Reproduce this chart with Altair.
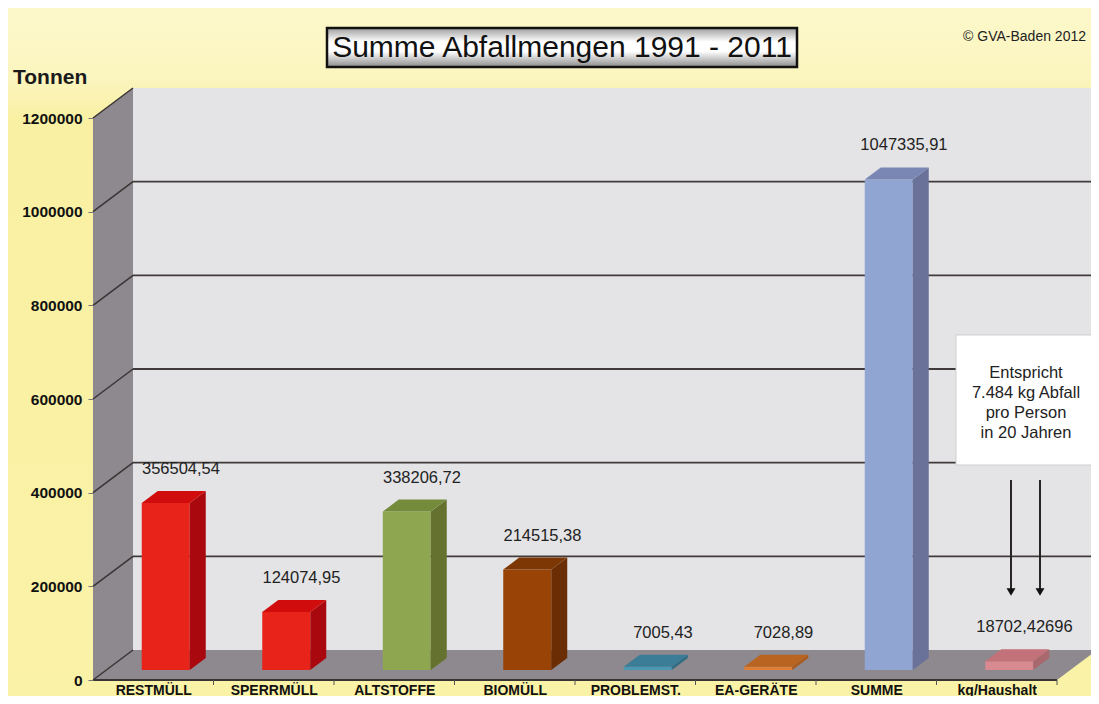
import json
import altair as alt
import pandas as pd

# ---------------- data ----------------
categories = ["RESTMÜLL", "SPERRMÜLL", "ALTSTOFFE", "BIOMÜLL",
              "PROBLEMST.", "EA-GERÄTE", "SUMME", "kg/Haushalt"]
values = [356504.54, 124074.95, 338206.72, 214515.38,
          7005.43, 7028.89, 1047335.91, 18702.42696]
value_labels = ["356504,54", "124074,95", "338206,72", "214515,38",
                "7005,43", "7028,89", "1047335,91", "18702,42696"]
front_colors = ["#E8231A", "#E8231A", "#8DA64F", "#9A4306",
                "#4A98B4", "#E07F36", "#91A5D3", "#D98A90"]
side_colors = ["#A9080E", "#A9080E", "#65722F", "#6B2D04",
               "#2F6B82", "#A85A1C", "#6A7299", "#A8686E"]
top_colors = ["#D10C0C", "#D10C0C", "#748B3B", "#7C3705",
              "#3B7D97", "#B96521", "#7A86B3", "#C27278"]
y_ticks = [0, 200000, 400000, 600000, 800000, 1000000, 1200000]

title_text = "Summe Abfallmengen 1991 - 2011"
copyright_text = "© GVA-Baden 2012"
unit_text = "Tonnen"
note_text = "Entspricht\n7.484 kg Abfall\npro Person\nin 20 Jahren"

FONT = "Liberation Sans"

# ---------------- geometry constants (pixel based) ----------------
PX_X = 120.5                 # px per category
K = 562 / 1200000            # px per tonne
W, H = 990, 600
XMAX = W / PX_X
YMAX = H / K
DX, DY = 40 / PX_X, 30 / K   # full depth of the 3D box
OX, OY = 12.5 / PX_X, 10 / K # offset of bar front face
HW = 24 / PX_X               # half width of bar
BDX, BDY = 16 / PX_X, 12 / K # bar depth
NC = len(categories)

xs = alt.Scale(domain=[0, XMAX], nice=False, zero=False)
ys = alt.Scale(domain=[0, YMAX], nice=False, zero=False)

label_expr = json.dumps(categories, ensure_ascii=False) + "[floor(datum.value)]"
x_axis = alt.Axis(values=[i + 0.5 for i in range(NC)], labelExpr=label_expr,
                  ticks=False, domain=False, grid=False, title=None,
                  labelFont=FONT, labelFontWeight="bold", labelFontSize=14,
                  labelColor="#111111", labelPadding=3, labelAngle=0,
                  labelOverlap=False, labelFlush=False, zindex=2)
y_axis = alt.Axis(values=y_ticks, format="d", ticks=True, tickSize=5,
                  tickColor="#777777", domain=False, grid=False, title=None,
                  labelFont=FONT, labelFontWeight="bold", labelFontSize=15.5,
                  labelColor="#111111", labelPadding=6, labelFlush=False, zindex=2)


def X(f):
    return alt.X(f, type="quantitative", scale=xs, axis=x_axis)


def Y(f):
    return alt.Y(f, type="quantitative", scale=ys, axis=y_axis)


one = pd.DataFrame({"k": [0]})

# ---------------- background ----------------
bg = alt.Chart(one).mark_rect(fill={
    "gradient": "linear", "x1": 0, "y1": 0, "x2": 0, "y2": 1,
    "stops": [{"offset": 0, "color": "#FCF8CA"},
              {"offset": 0.1, "color": "#FBF5BF"},
              {"offset": 0.16, "color": "#F9F0A3"},
              {"offset": 1, "color": "#FAF2A6"}]}).encode(
    x=alt.value(-85), x2=alt.value(1000), y=alt.value(-72), y2=alt.value(620))

# ---------------- 3D box ----------------
back_df = pd.DataFrame({"x": [DX], "x2": [NC + DX], "y": [DY], "y2": [y_ticks[-1] + DY]})
back = alt.Chart(back_df).mark_rect(color="#E4E4E6").encode(
    x=X("x"), x2="x2", y=Y("y"), y2="y2")

left_df = pd.DataFrame({"x": [0, DX], "y": [y_ticks[-1], y_ticks[-1] + DY], "y2": [0, DY]})
left = alt.Chart(left_df).mark_area(color="#8E898E", orient="vertical").encode(
    x=X("x"), y=Y("y"), y2="y2")

floor_df = pd.DataFrame({"y": [0, DY], "x": [0, DX], "x2": [NC, NC + DX]})
floor = alt.Chart(floor_df).mark_area(color="#8E898E", orient="horizontal").encode(
    y=Y("y"), x=X("x"), x2="x2")

grid_df = pd.DataFrame({"x": [DX] * (len(y_ticks) - 2), "x2": [NC + DX] * (len(y_ticks) - 2),
                        "y": [t + DY for t in y_ticks[1:-1]]})
grid = alt.Chart(grid_df).mark_rule(color="#403A3A", strokeWidth=1.8).encode(
    x=X("x"), x2="x2", y=Y("y"))

diag_df = pd.DataFrame({"x": [0] * len(y_ticks), "x2": [DX] * len(y_ticks),
                        "y": y_ticks, "y2": [t + DY for t in y_ticks]})
diag = alt.Chart(diag_df).mark_rule(color="#3A3535", strokeWidth=1.5).encode(
    x=X("x"), x2="x2", y=Y("y"), y2="y2")

front_line = alt.Chart(pd.DataFrame({"x": [0], "x2": [NC], "y": [0]})).mark_rule(
    color="#3A3535", strokeWidth=1.8).encode(x=X("x"), x2="x2", y=Y("y"))

tick_df = pd.DataFrame({"x": list(range(1, NC + 1)), "y": [0] * NC, "y2": [-5 / K] * NC})
ticks = alt.Chart(tick_df).mark_rule(color="#555555", strokeWidth=1).encode(
    x=X("x"), y=Y("y"), y2="y2")

# ---------------- bars ----------------
front_rows, side_rows, top_rows, label_rows = [], [], [], []
for i, (cat, v) in enumerate(zip(categories, values)):
    c = i + 0.5
    xl, xr = c + OX - HW, c + OX + HW
    yb, yt = OY, v + OY
    front_rows.append({"cat": cat, "xl": xl, "xr": xr, "yb": yb, "yt": yt, "col": front_colors[i]})
    side_rows.append({"cat": cat, "x": xr, "top": yt, "bot": yb, "col": side_colors[i]})
    side_rows.append({"cat": cat, "x": xr + BDX, "top": yt + BDY, "bot": yb + BDY, "col": side_colors[i]})
    top_rows.append({"cat": cat, "y": yt, "xl": xl, "xr": xr, "col": top_colors[i]})
    top_rows.append({"cat": cat, "y": yt + BDY, "xl": xl + BDX, "xr": xr + BDX, "col": top_colors[i]})
    label_rows.append({"cat": cat, "x": c + 0.23, "y": yt, "t": value_labels[i]})

fronts = alt.Chart(pd.DataFrame(front_rows)).mark_rect().encode(
    x=X("xl"), x2="xr", y=Y("yb"), y2="yt",
    color=alt.Color("col:N", scale=None))
sides = alt.Chart(pd.DataFrame(side_rows)).mark_area(orient="vertical").encode(
    x=X("x"), y=Y("top"), y2="bot", detail="cat:N",
    color=alt.Color("col:N", scale=None))
tops = alt.Chart(pd.DataFrame(top_rows)).mark_area(orient="horizontal").encode(
    y=Y("y"), x=X("xl"), x2="xr", detail="cat:N",
    color=alt.Color("col:N", scale=None))
labels = alt.Chart(pd.DataFrame(label_rows)).mark_text(
    font=FONT, fontSize=16.5, color="#222222", baseline="middle", dy=-34).encode(
    x=X("x"), y=Y("y"), text="t:N")

# ---------------- annotations ----------------
note_box = alt.Chart(one).mark_rect(fill="#FFFFFF", stroke="#CFCFCF", strokeWidth=1).encode(
    x=alt.value(863), x2=alt.value(1006), y=alt.value(255), y2=alt.value(385))
note = alt.Chart(pd.DataFrame({"t": [note_text]})).mark_text(
    font=FONT, fontSize=16.5, color="#222222", align="center", baseline="middle",
    lineBreak="\n", lineHeight=20).encode(x=alt.value(933), y=alt.value(293), text="t:N")

arrow_df = pd.DataFrame({"px": [918, 947]})
arrow_lines = alt.Chart(arrow_df).mark_rule(color="#2A2525", strokeWidth=2).encode(
    x=alt.X("px:Q", scale=None), y=alt.value(400), y2=alt.value(510))
arrow_heads = alt.Chart(arrow_df).mark_point(
    shape="triangle-down", filled=True, color="#111111", size=80, opacity=1).encode(
    x=alt.X("px:Q", scale=None), y=alt.value(512))

title_box = alt.Chart(one).mark_rect(
    fill={"gradient": "linear", "x1": 0, "y1": 0, "x2": 0, "y2": 1,
          "stops": [{"offset": 0, "color": "#9E9E9E"},
                    {"offset": 0.35, "color": "#FFFFFF"},
                    {"offset": 0.6, "color": "#FFFFFF"},
                    {"offset": 1, "color": "#8C8C8C"}]},
    stroke="#111111", strokeWidth=2.5).encode(
    x=alt.value(234), x2=alt.value(704), y=alt.value(-52), y2=alt.value(-13))
title = alt.Chart(pd.DataFrame({"t": [title_text]})).mark_text(
    font=FONT, fontSize=30, color="#111111", align="center", baseline="middle").encode(
    x=alt.value(469), y=alt.value(-32), text="t:N")
copyright = alt.Chart(pd.DataFrame({"t": [copyright_text]})).mark_text(
    font=FONT, fontSize=14, color="#222222", align="right", baseline="middle").encode(
    x=alt.value(993), y=alt.value(-43), text="t:N")
unit = alt.Chart(pd.DataFrame({"t": [unit_text]})).mark_text(
    font=FONT, fontSize=21, fontWeight="bold", color="#1A1A1A", align="left", baseline="middle").encode(
    x=alt.value(-80), y=alt.value(-2), text="t:N")

chart = alt.layer(
    bg, back, left, floor, grid, diag, front_line, ticks,
    fronts, sides, tops, labels,
    note_box, note, arrow_lines, arrow_heads,
    title_box, title, copyright, unit
).properties(
    width=W, height=H,
    autosize=alt.AutoSizeParams(type="none"),
    padding={"left": 85, "top": 72, "right": 8, "bottom": 16},
    background="#FAF2A6",
).configure_view(stroke=None)

chart.save("out.html", embed_options={"renderer": "svg", "actions": False})
